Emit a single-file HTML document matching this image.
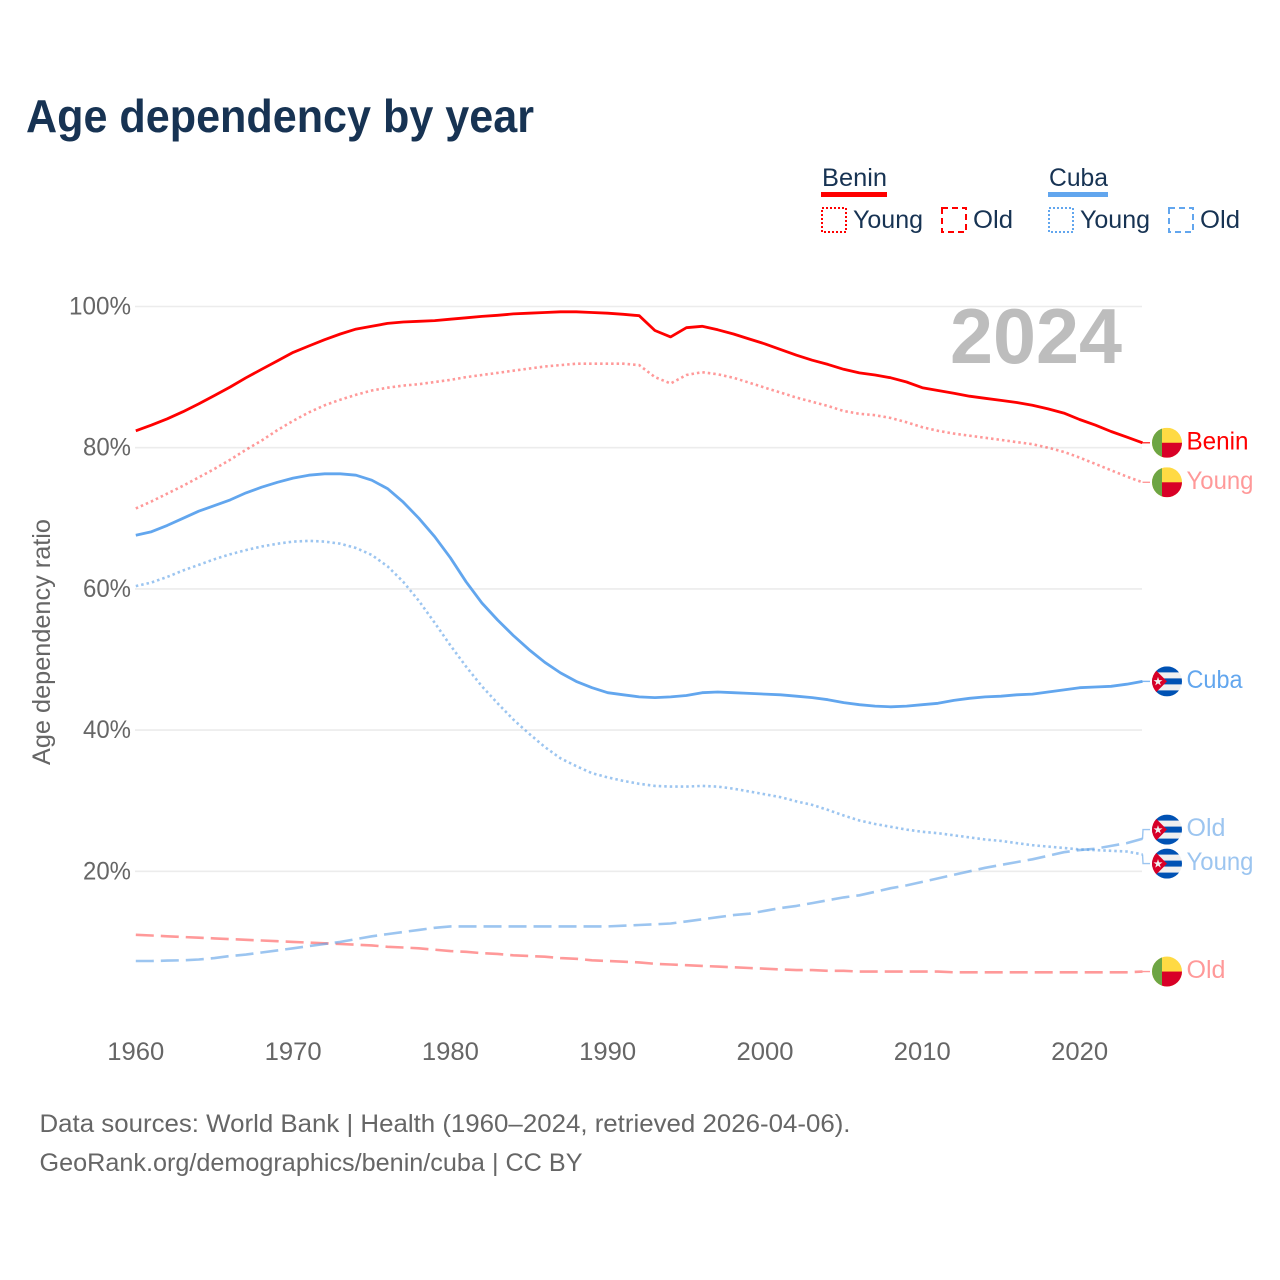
<!DOCTYPE html>
<html lang="en">
<head>
<meta charset="utf-8">
<title>Age dependency by year</title>
<style>
html,body{margin:0;padding:0;background:#fff;}
svg{display:block;font-family:"Liberation Sans",sans-serif;}
</style>
</head>
<body>
<svg id="chart" xmlns="http://www.w3.org/2000/svg" width="1280" height="1280" viewBox="0 0 1280 1280">
  <rect width="1280" height="1280" fill="#fff"/>
  <text x="26" y="132" font-size="46" font-weight="700" fill="#173353" textLength="508" lengthAdjust="spacingAndGlyphs">Age dependency by year</text>

  <g font-size="25" fill="#173353">
    <text x="822" y="186" textLength="65" lengthAdjust="spacingAndGlyphs">Benin</text>
    <rect x="821" y="192" width="66" height="5" fill="#ff0000"/>
    <rect x="822" y="208" width="24" height="24" fill="none" stroke="#ff0000" stroke-width="2" stroke-dasharray="2 2"/>
    <text x="853" y="228" textLength="70" lengthAdjust="spacingAndGlyphs">Young</text>
    <rect x="942" y="208" width="24" height="24" fill="none" stroke="#ff0000" stroke-width="2" stroke-dasharray="6 4"/>
    <text x="973" y="228" textLength="40" lengthAdjust="spacingAndGlyphs">Old</text>
    <text x="1049" y="186" textLength="59" lengthAdjust="spacingAndGlyphs">Cuba</text>
    <rect x="1048" y="192" width="60" height="5" fill="#62a6ee"/>
    <rect x="1049" y="208" width="24" height="24" fill="none" stroke="#62a6ee" stroke-width="2" stroke-dasharray="2 2"/>
    <text x="1080" y="228" textLength="70" lengthAdjust="spacingAndGlyphs">Young</text>
    <rect x="1169" y="208" width="24" height="24" fill="none" stroke="#62a6ee" stroke-width="2" stroke-dasharray="6 4"/>
    <text x="1200" y="228" textLength="40" lengthAdjust="spacingAndGlyphs">Old</text>
  </g>

  <g id="grid"></g>
  <g id="yaxis"></g>
  <g id="xaxis"></g>
  <text transform="translate(50,642) rotate(-90)" text-anchor="middle" font-size="25" fill="#666" textLength="246" lengthAdjust="spacingAndGlyphs">Age dependency ratio</text>
  <text x="950" y="363" font-size="78" font-weight="700" fill="#bdbdbd" textLength="172" lengthAdjust="spacingAndGlyphs">2024</text>

  <defs>
    <clipPath id="flag-clip"><circle cx="0" cy="0" r="15"/></clipPath>
    <g id="flag-benin" clip-path="url(#flag-clip)">
      <rect x="-15" y="-15" width="30" height="30" fill="#ffda44"/>
      <rect x="-5" y="0" width="20" height="15" fill="#d80027"/>
      <rect x="-15" y="-15" width="10" height="30" fill="#6da544"/>
    </g>
    <g id="flag-cuba" clip-path="url(#flag-clip)">
      <rect x="-15" y="-15" width="30" height="30" fill="#f0f0f0"/>
      <rect x="-15" y="-15" width="30" height="6" fill="#0052b4"/>
      <rect x="-15" y="-3" width="30" height="6" fill="#0052b4"/>
      <rect x="-15" y="9" width="30" height="6" fill="#0052b4"/>
      <polygon points="-15,-15 0,0 -15,15" fill="#d80027"/>
      <polygon points="-9,-4.5 -7.9,-1.2 -4.5,-1.2 -7.2,0.8 -6.2,4 -9,2 -11.8,4 -10.8,0.8 -13.5,-1.2 -10.1,-1.2" fill="#f0f0f0"/>
    </g>
  </defs>

  <g id="series" fill="none" stroke-linejoin="round"></g>
  <g id="labels"></g>

  <g font-size="25" fill="#666">
    <text x="39.5" y="1132" textLength="811" lengthAdjust="spacingAndGlyphs">Data sources: World Bank | Health (1960–2024, retrieved 2026-04-06).</text>
    <text x="39.5" y="1171" textLength="543" lengthAdjust="spacingAndGlyphs">GeoRank.org/demographics/benin/cuba | CC BY</text>
  </g>
</svg>
<script>
var years = [1960,1961,1962,1963,1964,1965,1966,1967,1968,1969,1970,1971,1972,1973,1974,1975,1976,1977,1978,1979,1980,1981,1982,1983,1984,1985,1986,1987,1988,1989,1990,1991,1992,1993,1994,1995,1996,1997,1998,1999,2000,2001,2002,2003,2004,2005,2006,2007,2008,2009,2010,2011,2012,2013,2014,2015,2016,2017,2018,2019,2020,2021,2022,2023,2024];
var xTickValues = [1960,1970,1980,1990,2000,2010,2020];
var yTickValues = [20,40,60,80,100];
var beninTotal = [82.4,83.2,84.1,85.1,86.2,87.4,88.6,89.9,91.1,92.3,93.5,94.4,95.3,96.1,96.8,97.2,97.6,97.8,97.9,98.0,98.2,98.4,98.6,98.75,98.95,99.05,99.15,99.25,99.25,99.15,99.05,98.9,98.7,96.6,95.7,97.0,97.2,96.7,96.1,95.4,94.7,93.9,93.1,92.4,91.8,91.1,90.6,90.3,89.9,89.3,88.5,88.1,87.7,87.3,87.0,86.7,86.4,86.0,85.5,84.9,84.0,83.2,82.3,81.5,80.7];
var beninYoung = [71.4,72.4,73.5,74.6,75.8,77.0,78.3,79.7,81.0,82.5,83.8,85.0,86.0,86.8,87.5,88.1,88.5,88.8,89.0,89.3,89.6,90.0,90.3,90.6,90.9,91.2,91.5,91.7,91.9,91.9,91.9,91.9,91.7,90.0,89.1,90.3,90.7,90.4,89.9,89.2,88.5,87.8,87.1,86.5,85.9,85.2,84.8,84.6,84.2,83.6,82.9,82.4,82.0,81.7,81.4,81.1,80.8,80.5,80.0,79.4,78.6,77.7,76.8,75.9,75.1];
var beninOld = [11.0,10.9,10.8,10.7,10.6,10.5,10.4,10.3,10.2,10.1,10.0,9.9,9.8,9.7,9.6,9.5,9.3,9.2,9.1,8.9,8.7,8.6,8.4,8.3,8.1,8.0,7.9,7.7,7.6,7.4,7.3,7.2,7.1,6.9,6.8,6.7,6.6,6.5,6.4,6.3,6.2,6.1,6.0,6.0,5.9,5.9,5.8,5.8,5.8,5.8,5.8,5.8,5.7,5.7,5.7,5.7,5.7,5.7,5.7,5.7,5.7,5.7,5.7,5.7,5.8];
var cubaTotal = [67.6,68.1,69.0,70.0,71.0,71.8,72.6,73.6,74.4,75.1,75.7,76.1,76.3,76.3,76.1,75.4,74.2,72.3,70.0,67.4,64.4,61.0,58.0,55.6,53.4,51.4,49.6,48.1,46.9,46.0,45.3,45.0,44.7,44.6,44.7,44.9,45.3,45.4,45.3,45.2,45.1,45.0,44.8,44.6,44.3,43.9,43.6,43.4,43.3,43.4,43.6,43.8,44.2,44.5,44.7,44.8,45.0,45.1,45.4,45.7,46.0,46.1,46.2,46.5,46.9];
var cubaYoung = [60.4,60.9,61.7,62.6,63.4,64.2,64.9,65.5,66.0,66.4,66.7,66.8,66.7,66.4,65.8,64.8,63.2,61.0,58.3,55.2,52.0,49.0,46.2,43.8,41.5,39.5,37.6,36.0,34.9,33.9,33.3,32.8,32.4,32.1,32.0,32.0,32.1,32.0,31.7,31.3,30.9,30.5,29.9,29.4,28.7,27.9,27.2,26.7,26.3,25.9,25.6,25.4,25.1,24.8,24.5,24.3,24.0,23.7,23.5,23.3,23.1,23.0,22.9,22.8,22.4];
var cubaOld = [7.3,7.3,7.35,7.4,7.5,7.7,8.0,8.2,8.5,8.8,9.1,9.4,9.7,10.0,10.4,10.8,11.1,11.4,11.7,12.0,12.2,12.2,12.2,12.2,12.2,12.2,12.2,12.2,12.2,12.2,12.2,12.3,12.4,12.5,12.6,12.9,13.2,13.5,13.8,14.0,14.4,14.8,15.1,15.5,15.9,16.3,16.6,17.1,17.6,18.0,18.5,19.0,19.5,20.0,20.5,20.9,21.3,21.7,22.2,22.7,23.0,23.2,23.6,24.0,24.6];

var SVGNS = 'http://www.w3.org/2000/svg';
var RED = '#ff0000';
var BLUE = '#62a6ee';

function xScale(year) { return 135.8 + (year - 1960) * 15.73; }
function yScale(pct) { return 1012.5 - pct * 7.06; }
function make(tag, parent) {
  var el = document.createElementNS(SVGNS, tag);
  parent.appendChild(el);
  return el;
}

var gridGroup = document.getElementById('grid');
var yAxisGroup = document.getElementById('yaxis');
var xAxisGroup = document.getElementById('xaxis');
var seriesGroup = document.getElementById('series');
var labelGroup = document.getElementById('labels');

yTickValues.forEach(function (v) {
  var line = make('line', gridGroup);
  
  
  line.setAttribute('x1', 135);
  line.setAttribute('x2', 1142);
  line.setAttribute('y1', yScale(v));
  line.setAttribute('y2', yScale(v));
  line.setAttribute('stroke', '#ececec');
  line.setAttribute('stroke-width', 1.6);
  var t = make('text', yAxisGroup);
  
  
  t.setAttribute('x', 131);
  t.setAttribute('y', yScale(v) + 8);
  t.setAttribute('text-anchor', 'end');
  t.setAttribute('font-size', 25);
  t.setAttribute('fill', '#666');
  t.setAttribute('textLength', v === 100 ? 62 : 48);
  t.setAttribute('lengthAdjust', 'spacingAndGlyphs');
  t.textContent = v + '%';
});

xTickValues.forEach(function (v) {
  var t = make('text', xAxisGroup);
  
  
  t.setAttribute('x', xScale(v));
  t.setAttribute('y', 1060);
  t.setAttribute('text-anchor', 'middle');
  t.setAttribute('font-size', 25);
  t.setAttribute('fill', '#666');
  t.setAttribute('textLength', 57);
  t.setAttribute('lengthAdjust', 'spacingAndGlyphs');
  t.textContent = String(v);
});

var seriesList = [
  { id: 'benin-old', values: beninOld, color: RED, opacity: 0.4, width: 2.6, dash: '18 7', label: 'Old', labelWidth: 39, flag: 'flag-benin' },
  { id: 'cuba-old', values: cubaOld, color: '#5a9fe6', opacity: 0.6, width: 2.6, dash: '18 7', label: 'Old', labelWidth: 39, flag: 'flag-cuba' },
  { id: 'benin-young', values: beninYoung, color: RED, opacity: 0.4, width: 2.6, dash: '2.5 3', label: 'Young', labelWidth: 67, flag: 'flag-benin' },
  { id: 'cuba-young', values: cubaYoung, color: '#5a9fe6', opacity: 0.6, width: 2.6, dash: '2.5 3', label: 'Young', labelWidth: 67, flag: 'flag-cuba' },
  { id: 'benin-total', values: beninTotal, color: RED, opacity: 1, width: 2.8, dash: '', label: 'Benin', labelWidth: 62, flag: 'flag-benin' },
  { id: 'cuba-total', values: cubaTotal, color: BLUE, opacity: 1, width: 2.8, dash: '', label: 'Cuba', labelWidth: 56, flag: 'flag-cuba' }
];

seriesList.forEach(function (s) {
  var d = s.values.map(function (v, i) {
    return (i ? 'L' : 'M') + xScale(years[i]).toFixed(1) + ' ' + yScale(v).toFixed(1);
  }).join(' ');
  var p = make('path', seriesGroup);
  
  
  p.setAttribute('d', d);
  p.setAttribute('stroke', s.color);
  p.setAttribute('stroke-opacity', s.opacity);
  p.setAttribute('stroke-width', s.width);
  if (s.dash) p.setAttribute('stroke-dasharray', s.dash);
});

/* End labels: placed at the series' last value, pushed apart when they would overlap. */
var minGap = 34;
var placed = seriesList.map(function (s) {
  var endY = yScale(s.values[s.values.length - 1]);
  return { s: s, endY: endY, labelY: endY };
}).sort(function (a, b) { return a.endY - b.endY; });
for (var i = 1; i < placed.length; i++) {
  var gap = placed[i].labelY - placed[i - 1].labelY;
  if (gap < minGap) {
    var push = (minGap - gap) / 2;
    placed[i - 1].labelY -= push;
    placed[i].labelY += push;
  }
}

placed.forEach(function (p) {
  var s = p.s;
  var endX = xScale(years[years.length - 1]);
  var leader = make('polyline', labelGroup);
  
  
  leader.setAttribute('points', endX + ',' + p.endY + ' ' + (endX + 0.5) + ',' + p.labelY + ' 1150,' + p.labelY);
  leader.setAttribute('fill', 'none');
  leader.setAttribute('stroke', s.color);
  leader.setAttribute('stroke-opacity', s.opacity === 1 ? 0.8 : s.opacity);
  leader.setAttribute('stroke-width', 1.4);
  var flag = make('use', labelGroup);
  
  
  flag.setAttribute('href', '#' + s.flag);
  flag.setAttribute('transform', 'translate(1167,' + p.labelY + ')');
  var t = make('text', labelGroup);
  
  
  t.setAttribute('x', 1186.5);
  t.setAttribute('y', p.labelY + 6.5);
  t.setAttribute('font-size', 25);
  t.setAttribute('fill', s.color);
  t.setAttribute('fill-opacity', s.opacity);
  t.setAttribute('textLength', s.labelWidth);
  t.setAttribute('lengthAdjust', 'spacingAndGlyphs');
  t.textContent = s.label;
});
</script>
</body>
</html>
